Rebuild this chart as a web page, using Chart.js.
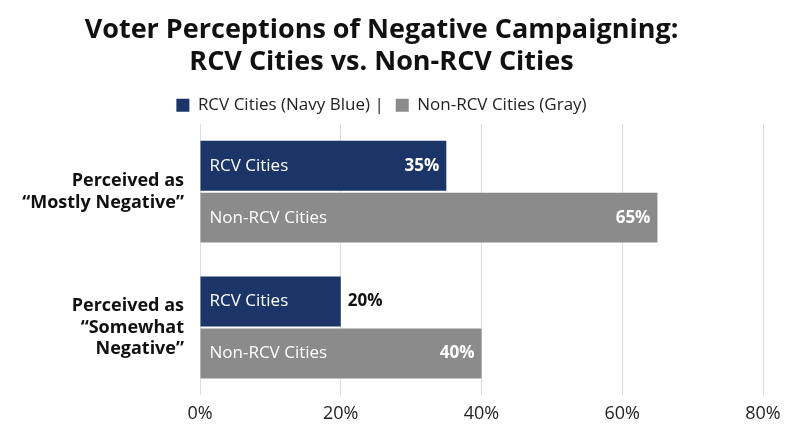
<!DOCTYPE html>
<html><head><meta charset="utf-8">
<script src="https://cdn.jsdelivr.net/npm/chart.js@4"></script>
<style>html,body{margin:0;background:#fff}#w{width:800px;height:447px}</style>
</head><body><div id="w"><canvas id="c"></canvas></div>
<script>
const categories = [["Perceived as","“Mostly Negative”"],["Perceived as","“Somewhat","Negative”"]];
const seriesNames = ["RCV Cities","Non-RCV Cities"];
const legendLabels = ["RCV Cities (Navy Blue) |","Non-RCV Cities (Gray)"];
const rcvValues = [35,20];
const nonRcvValues = [65,40];
const colors = ["#1b3569","#8b8b8b"];
const F = "'Open Sans', Inter, sans-serif";

const labelPlugin = {
  id:'barLabels',
  afterDatasetsDraw(chart){
    const ctx = chart.ctx;
    chart.data.datasets.forEach((ds,di)=>{
      chart.getDatasetMeta(di).data.forEach((bar,i)=>{
        const left = bar.base, right = bar.x, y = bar.y;
        ctx.save();
        ctx.textBaseline='middle';
        ctx.font = `17px ${F}`;
        ctx.fillStyle='#fff';
        ctx.textAlign='left';
        ctx.fillText(seriesNames[di], left+9, y);
        ctx.font = `bold 17px ${F}`;
        const txt = ds.data[i]+'%';
        const nameW = ctx.measureText(seriesNames[di]).width;
        const tw = ctx.measureText(txt).width;
        if (right-left > 9+nameW+tw+30){
          ctx.textAlign='right'; ctx.fillStyle='#fff';
          ctx.fillText(txt, right-7, y);
        } else {
          ctx.textAlign='left'; ctx.fillStyle='#111';
          ctx.fillText(txt, right+7, y);
        }
        ctx.restore();
      });
    });
  }
};

new Chart(document.getElementById('c'),{
  type:'bar',
  data:{labels:categories,datasets:[
    {label:legendLabels[0],data:rcvValues,backgroundColor:colors[0],categoryPercentage:0.765,barPercentage:0.96},
    {label:legendLabels[1],data:nonRcvValues,backgroundColor:colors[1],categoryPercentage:0.765,barPercentage:0.96}
  ]},
  options:{
    indexAxis:'y',responsive:true,maintainAspectRatio:false,animation:false,
    layout:{padding:{left:0,right:37,top:10,bottom:14}},
    plugins:{
      title:{display:true,text:["Voter Perceptions of Negative Campaigning:","RCV Cities vs. Non-RCV Cities"],color:'#111',font:{family:F,size:27,weight:'bold',lineHeight:1.2},padding:{top:4,bottom:6}},
      legend:{display:true,labels:{color:'#222',font:{family:F,size:17},boxWidth:13,boxHeight:13,padding:12},onClick:null},
      tooltip:{enabled:false}
    },
    scales:{
      x:{min:0,max:80,ticks:{stepSize:20,callback:v=>v+'%',color:'#222',font:{family:F,size:18},padding:8},grid:{color:'#dddddd',drawTicks:false},border:{display:false}},
      y:{ticks:{color:'#111',font:{family:F,size:18,weight:'bold'},padding:8},grid:{display:false},border:{display:false},
         afterFit(s){s.width=200;}}
    }
  },
  plugins:[labelPlugin]
});
</script></body></html>
